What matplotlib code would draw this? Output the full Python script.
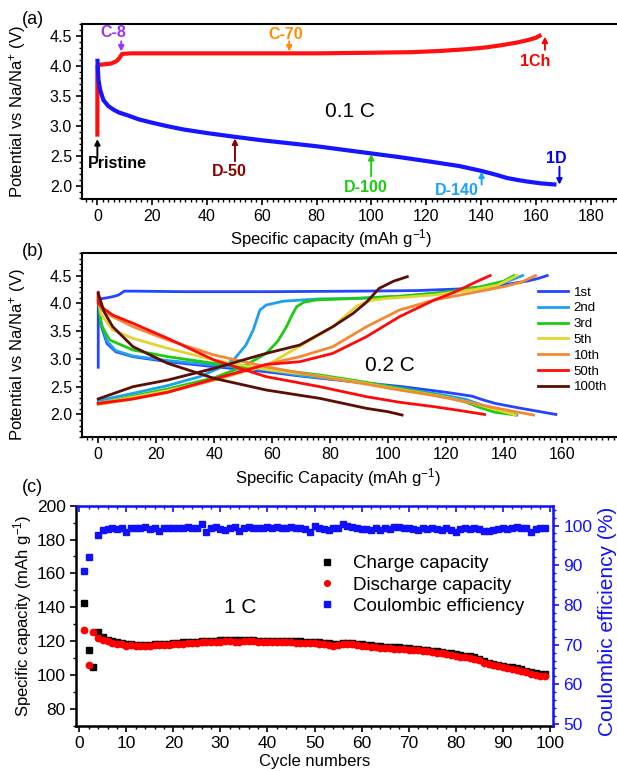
import matplotlib
matplotlib.use('Agg')
import matplotlib.pyplot as plt
from matplotlib.ticker import MultipleLocator

plt.rcParams['font.family'] = ['Liberation Sans', 'DejaVu Sans']
plt.rcParams['mathtext.fontset'] = 'custom'
plt.rcParams['mathtext.rm'] = 'Liberation Sans'
plt.rcParams['mathtext.it'] = 'Liberation Sans:italic'
plt.rcParams['mathtext.bf'] = 'Liberation Sans:bold'

# ---- (a) first cycle at 0.1 C ----
a_chg_cap = [0, 0, 1, 3, 5, 7, 8, 9, 12, 30, 60, 80, 100, 115, 125, 135, 142, 148, 153, 157, 160, 162]
a_chg_v = [2.82, 4.0, 4.02, 4.03, 4.04, 4.08, 4.13, 4.2, 4.21, 4.21, 4.21, 4.21, 4.22, 4.23, 4.25, 4.28, 4.31, 4.35, 4.39, 4.43, 4.47, 4.52]
a_dis_cap = [0, 0.4, 1, 2.2, 4, 5.9, 8, 10.8, 15, 19.3, 25, 31.4, 40, 49.7, 60, 68, 80, 90, 100, 110, 122, 132, 140, 145, 149.5, 153, 157, 162, 167.5]
a_dis_v = [4.12, 3.77, 3.6, 3.43, 3.33, 3.27, 3.22, 3.18, 3.11, 3.06, 3.0, 2.94, 2.88, 2.82, 2.76, 2.72, 2.66, 2.60, 2.54, 2.48, 2.40, 2.33, 2.25, 2.19, 2.13, 2.10, 2.07, 2.04, 2.02]

# ---- (b) selected cycles at 0.2 C ----
b_labels = ['1st', '2nd', '3rd', '5th', '10th', '50th', '100th']
b_colors = ['#2545ff', '#1ea0f0', '#1ccc10', '#e2d52e', '#f28a35', '#ff0a0a', '#5a0f02']
b_chg_cap = [
    [0, 0, 2, 5, 7, 9, 12, 30, 60, 90, 110, 125, 135, 142, 148, 152, 155],
    [0, 12, 24, 35, 42, 47, 51, 53.5, 55.8, 58, 64, 76.5, 90, 105, 120, 132, 140, 146.5],
    [0, 12, 24, 40, 50, 58, 62, 65, 67, 68.5, 71, 75, 85, 105, 120, 132, 140, 143.5],
    [0, 12, 24, 40, 58, 69.6, 76.5, 81, 85, 89, 92, 95, 100, 116, 130, 138, 144.5],
    [0, 12, 24, 40, 58, 69.6, 81, 92.6, 104, 116, 127, 134, 140, 146, 151],
    [0, 12, 24, 40, 58, 69.6, 81, 92.6, 104, 116, 122, 127, 131, 135.3],
    [0, 12, 24, 40, 58, 69.6, 76.5, 81, 88, 92.6, 97, 102, 106.7],
]
b_chg_v = [
    [2.85, 4.08, 4.09, 4.12, 4.15, 4.22, 4.22, 4.21, 4.21, 4.22, 4.23, 4.26, 4.30, 4.35, 4.40, 4.45, 4.50],
    [2.25, 2.38, 2.52, 2.68, 2.84, 3.00, 3.25, 3.52, 3.88, 3.97, 4.04, 4.08, 4.09, 4.13, 4.20, 4.28, 4.37, 4.50],
    [2.20, 2.33, 2.46, 2.66, 2.86, 3.10, 3.32, 3.58, 3.80, 3.94, 4.02, 4.06, 4.08, 4.13, 4.20, 4.30, 4.40, 4.50],
    [2.20, 2.31, 2.43, 2.62, 2.88, 3.23, 3.44, 3.58, 3.76, 3.94, 4.02, 4.06, 4.09, 4.15, 4.25, 4.33, 4.50],
    [2.18, 2.28, 2.40, 2.62, 2.90, 3.04, 3.22, 3.58, 3.88, 4.06, 4.17, 4.24, 4.30, 4.38, 4.50],
    [2.20, 2.28, 2.40, 2.64, 2.90, 2.95, 3.10, 3.40, 3.76, 4.06, 4.18, 4.30, 4.40, 4.50],
    [2.28, 2.50, 2.62, 2.83, 3.10, 3.25, 3.45, 3.58, 3.82, 4.02, 4.27, 4.40, 4.48],
]
b_dis_cap = [
    [0, 1, 3, 6, 12, 24, 40, 58, 70, 90, 105, 120, 129, 133, 137, 145, 158],
    [0, 1, 3, 6, 12, 24, 40, 58, 70, 90, 104, 118, 127, 133, 138, 144.5],
    [0, 1, 4, 12, 24, 40, 58, 76.5, 90, 104, 118, 127, 132, 137, 144],
    [0, 1, 5, 12, 24, 40, 58, 76.5, 90, 104, 118, 128, 135, 140, 144],
    [0, 1, 5, 12, 24, 40, 58, 76.5, 92, 104, 116, 127, 135, 142, 150.3],
    [0, 0, 2, 5, 12, 24, 40, 58, 76.5, 92.6, 104, 116, 125, 133.4],
    [0, 2, 5, 12, 24, 40, 58, 76.5, 92.6, 100, 104.9],
]
b_dis_v = [
    [4.15, 3.60, 3.28, 3.13, 3.04, 2.95, 2.86, 2.77, 2.69, 2.58, 2.50, 2.40, 2.33, 2.26, 2.20, 2.12, 2.00],
    [4.12, 3.65, 3.32, 3.15, 3.05, 2.97, 2.89, 2.80, 2.70, 2.58, 2.48, 2.36, 2.27, 2.16, 2.08, 1.99],
    [4.10, 3.60, 3.34, 3.16, 3.04, 2.92, 2.83, 2.71, 2.60, 2.47, 2.34, 2.22, 2.12, 2.04, 1.99],
    [4.10, 3.80, 3.52, 3.37, 3.19, 2.98, 2.81, 2.69, 2.58, 2.45, 2.33, 2.22, 2.12, 2.05, 1.99],
    [4.05, 3.90, 3.76, 3.58, 3.34, 3.07, 2.86, 2.68, 2.55, 2.44, 2.34, 2.23, 2.14, 2.07, 1.99],
    [4.20, 4.00, 3.90, 3.79, 3.64, 3.37, 2.98, 2.68, 2.50, 2.32, 2.22, 2.14, 2.07, 2.00],
    [4.18, 3.85, 3.58, 3.22, 2.92, 2.65, 2.44, 2.29, 2.11, 2.05, 1.99],
]

# ---- (c) cycling at 1 C ----
cycles = list(range(1, 100))
charge_cap = [142.6, 114.8, 104.9, 125.3, 122.3, 120.8, 120.0, 119.3, 118.8, 118.1,
              118.1, 117.8, 117.6, 117.7, 117.9, 118.1, 118.2, 118.4, 118.5, 118.7,
              118.9, 119.2, 119.4, 119.5, 119.6, 120.2, 120.3, 120.1, 120.3, 120.4,
              120.5, 120.6, 120.4, 120.4, 120.5, 120.6, 120.5, 120.3, 120.2, 120.1,
              120.1, 120.0, 120.0, 119.9, 119.9, 119.8, 119.8, 119.7, 119.6, 119.5,
              119.3, 119.1, 118.6, 118.1, 118.3, 118.9, 119.0, 118.8, 118.4, 118.0,
              117.7, 117.4, 117.1, 116.9, 116.7, 116.6, 116.4, 116.2, 116.0, 115.8,
              115.6, 115.3, 115.0, 114.7, 114.3, 113.9, 113.5, 113.1, 112.7, 112.2,
              111.8, 111.4, 111.0, 110.4, 109.6, 108.3, 107.3, 106.7, 106.1, 105.5,
              104.9, 104.4, 103.9, 103.3, 102.6, 101.8, 101.2, 100.7, 100.4]
discharge_cap = [126.3, 105.8, 125.6, 121.8, 120.6, 119.8, 119.0, 118.5, 118.0, 117.2,
                 117.4, 117.1, 116.9, 117.0, 117.2, 117.4, 117.5, 117.7, 117.8, 118.0,
                 118.2, 118.5, 118.7, 118.8, 118.9, 119.7, 119.2, 119.4, 119.6, 119.7,
                 119.8, 119.9, 119.6, 119.7, 119.8, 119.9, 119.8, 119.6, 119.5, 119.4,
                 119.4, 119.3, 119.3, 119.2, 119.2, 119.1, 119.0, 118.9, 118.8, 118.7,
                 118.5, 118.3, 117.6, 117.2, 117.6, 118.2, 118.3, 118.0, 117.6, 117.2,
                 116.9, 116.6, 116.3, 116.1, 115.9, 115.8, 115.6, 115.4, 115.2, 115.0,
                 114.8, 114.5, 114.2, 113.9, 113.5, 113.1, 112.7, 112.3, 111.8, 111.2,
                 110.8, 110.4, 110.0, 109.4, 108.6, 107.2, 106.2, 105.6, 105.0, 104.4,
                 103.8, 103.3, 102.8, 102.2, 101.5, 100.6, 100.0, 99.6, 99.3]
coulombic_eff = [88.6, 92.1, 119.7, 97.6, 99.0, 99.2, 99.3, 99.2, 99.5, 98.3,
                 99.4, 99.5, 99.3, 99.6, 99.2, 99.5, 98.7, 99.4, 99.3, 99.5,
                 99.3, 99.4, 99.6, 99.4, 99.3, 100.5, 98.4, 99.5, 99.6, 99.2,
                 98.8, 99.4, 99.6, 98.7, 99.5, 99.7, 99.3, 99.5, 99.4, 99.6,
                 99.5, 99.6, 99.3, 99.4, 99.6, 99.5, 99.3, 99.2, 98.4, 99.8,
                 99.4, 99.2, 99.0, 99.3, 99.5, 100.3, 99.8, 99.6, 99.4, 99.2,
                 99.1, 98.9, 99.3, 99.0, 99.4, 99.2, 99.6, 99.7, 99.5, 99.4,
                 99.2, 99.0, 99.3, 99.1, 99.4, 99.2, 98.9, 99.3, 99.0, 98.5,
                 99.2, 99.3, 99.1, 99.5, 99.2, 98.6, 98.7, 99.0, 99.2, 99.3,
                 99.1, 99.4, 99.6, 99.5, 99.3, 98.4, 99.2, 99.3, 99.4]

# annotations for (a): label, colour, text x, text y, arrow x, tail y, tip y
a_notes = [
    ('C-8', '#9b30ff', 5.8, 4.55, 8.7, 4.41, 4.24),
    ('C-70', '#ff8c00', 68.8, 4.52, 70, 4.41, 4.24),
    ('1Ch', '#ff0000', 159.8, 4.07, 163.3, 4.27, 4.49),
    ('Pristine', 'black', 7.2, 2.37, 0, 2.48, 2.78),
    ('D-50', '#8b0000', 48.2, 2.24, 50.2, 2.41, 2.79),
    ('D-100', '#1ccc10', 98, 1.97, 99.9, 2.16, 2.53),
    ('D-140', '#1aa3ff', 131.3, 1.93, 140.2, 2.02, 2.24),
    ('1D', '#0000ee', 167.5, 2.45, 168.6, 2.32, 2.02),
]

TICK_FS = 11.5
LABEL_FS = 12


def style_volt(ax):
    for s in ['left', 'bottom', 'top']:
        ax.spines[s].set_linewidth(1.5)
    ax.spines['right'].set_visible(False)
    ax.tick_params(which='major', direction='out', length=4, width=1.2,
                   labelsize=TICK_FS, top=False, right=False)
    ax.tick_params(which='minor', direction='out', length=2.2, width=1.0,
                   top=False, right=False)
    ax.xaxis.set_major_locator(MultipleLocator(20))
    ax.xaxis.set_minor_locator(MultipleLocator(2))
    ax.yaxis.set_major_locator(MultipleLocator(0.5))
    ax.yaxis.set_minor_locator(MultipleLocator(0.1))
    ax.yaxis.set_major_formatter(matplotlib.ticker.FormatStrFormatter('%.1f'))


fig = plt.figure(figsize=(6.17, 7.71), dpi=100)

# ---------------- (a) ----------------
ax_a = fig.add_axes([0.1334, 0.7419, 0.8666, 0.2270])
ax_a.plot(a_chg_cap, a_chg_v, color='#ff1010', lw=3.0, solid_capstyle='butt')
ax_a.plot(a_dis_cap, a_dis_v, color='#1515ff', lw=3.0, solid_capstyle='butt')
for lab, col, tx, ty, axx, y0, y1 in a_notes:
    ax_a.annotate('', xy=(axx, y1), xytext=(axx, y0),
                  arrowprops=dict(arrowstyle='-|>', color=col, lw=1.4,
                                  mutation_scale=8, shrinkA=0, shrinkB=0))
    ax_a.text(tx, ty, lab, color=col, fontsize=11.5, fontweight='bold',
              ha='center', va='center')
ax_a.text(92.2, 3.24, '0.1 C', fontsize=15, ha='center', va='center')
ax_a.set_xlim(-5.5, 189.6)
ax_a.set_ylim(1.78, 4.7)
style_volt(ax_a)
ax_a.set_xlabel('Specific capacity (mAh g$^{-1}$)', fontsize=LABEL_FS)
ax_a.xaxis.set_label_coords(0.465, -0.16)
ax_a.set_ylabel('Potential vs Na/Na$^{+}$ (V)', fontsize=LABEL_FS)
ax_a.yaxis.set_label_coords(-0.102, 0.5)

# ---------------- (b) ----------------
ax_b = fig.add_axes([0.1334, 0.4336, 0.8666, 0.2378])
for i in range(len(b_labels)):
    ax_b.plot(b_chg_cap[i], b_chg_v[i], color=b_colors[i], lw=2.0, label=b_labels[i])
    ax_b.plot(b_dis_cap[i], b_dis_v[i], color=b_colors[i], lw=2.0)
ax_b.text(100.7, 2.89, '0.2 C', fontsize=15, ha='center', va='center')
ax_b.set_xlim(-5.5, 179.1)
ax_b.set_ylim(1.6, 4.9)
style_volt(ax_b)
ax_b.set_xlabel('Specific Capacity (mAh g$^{-1}$)', fontsize=LABEL_FS)
ax_b.xaxis.set_label_coords(0.478, -0.16)
ax_b.set_ylabel('Potential vs Na/Na$^{+}$ (V)', fontsize=LABEL_FS)
ax_b.yaxis.set_label_coords(-0.102, 0.45)
ax_b.legend(loc='upper left', bbox_to_anchor=(0.852, 0.82), frameon=False,
            fontsize=9.5, handlelength=2.3, handletextpad=0.4,
            labelspacing=0.27, borderpad=0, borderaxespad=0)

# ---------------- (c) ----------------
C_FS = 12.5
ax_c = fig.add_axes([0.1232, 0.0588, 0.7731, 0.2853])
ax_ce = ax_c.twinx()
h1, = ax_c.plot(cycles, charge_cap, 's', color='black', ms=4.3, label='Charge capacity')
h2, = ax_c.plot(cycles, discharge_cap, 'o', color='#ff0000', ms=4.6, label='Discharge capacity')
h3, = ax_ce.plot(cycles, coulombic_eff, 's', color='#1010ff', ms=4.6, label='Coulombic efficiency')
ax_c.text(34.3, 139.6, '1 C', fontsize=15, ha='center', va='center')
ax_c.set_xlim(-0.7, 100.7)
ax_c.set_ylim(70, 200)
ax_ce.set_ylim(49.6, 105)
ax_c.xaxis.set_major_locator(MultipleLocator(10))
ax_c.xaxis.set_minor_locator(MultipleLocator(2))
ax_c.yaxis.set_minor_locator(MultipleLocator(10))
ax_c.set_yticks([80, 100, 120, 140, 160, 180, 200])
ax_ce.yaxis.set_minor_locator(MultipleLocator(2))
ax_ce.set_yticks([50, 60, 70, 80, 90, 100])

for s in ['left', 'bottom']:
    ax_c.spines[s].set_linewidth(1.8)
ax_c.tick_params(which='major', direction='out', length=4, width=1.2,
                 labelsize=C_FS, top=False, right=False)
ax_c.tick_params(which='minor', direction='out', length=2.2, width=1.0,
                 top=False, right=False)
ax_ce.spines['right'].set_color('#1010ff')
ax_ce.spines['right'].set_linewidth(1.8)
ax_ce.spines['top'].set_color('#1010ff')
ax_ce.spines['top'].set_linewidth(1.8)
ax_ce.spines['left'].set_visible(False)
ax_ce.spines['bottom'].set_visible(False)
ax_ce.tick_params(axis='y', which='major', direction='out', length=4, width=1.2,
                  colors='#1010ff', labelsize=C_FS)
ax_ce.tick_params(axis='y', which='minor', direction='out', length=2.2, width=1.0,
                  colors='#1010ff')
ax_ce.xaxis.set_visible(True)
ax_ce.tick_params(axis='x', which='both', bottom=False, top=True, labelbottom=False,
                  labeltop=False, direction='in', colors='#1010ff')
ax_ce.tick_params(axis='x', which='major', length=4, width=1.2)
ax_ce.tick_params(axis='x', which='minor', length=2.2, width=1.0)

ax_c.set_xlabel('Cycle numbers', fontsize=LABEL_FS)
ax_c.xaxis.set_label_coords(0.5, -0.128)
ax_c.set_ylabel('Specific capacity (mAh g$^{-1}$)', fontsize=LABEL_FS)
ax_c.yaxis.set_label_coords(-0.089, 0.5)
ax_ce.set_ylabel('Coulombic efficiency (%)', fontsize=15, color='#1010ff')
ax_ce.yaxis.set_label_coords(1.094, 0.474)
ax_ce.legend(handles=[h1, h2, h3], loc='upper left', bbox_to_anchor=(0.507, 0.775),
             frameon=False, fontsize=13.5, handlelength=1.0, handletextpad=0.85,
             labelspacing=0.22, borderpad=0, borderaxespad=0, markerscale=0.9)

fig.text(22 / 617, 1 - 19 / 771, '(a)', fontsize=13, va='center')
fig.text(22 / 617, 1 - 252 / 771, '(b)', fontsize=13, va='center')
fig.text(22 / 617, 1 - 487 / 771, '(c)', fontsize=13, va='center')

fig.savefig('out.png', dpi=100)
